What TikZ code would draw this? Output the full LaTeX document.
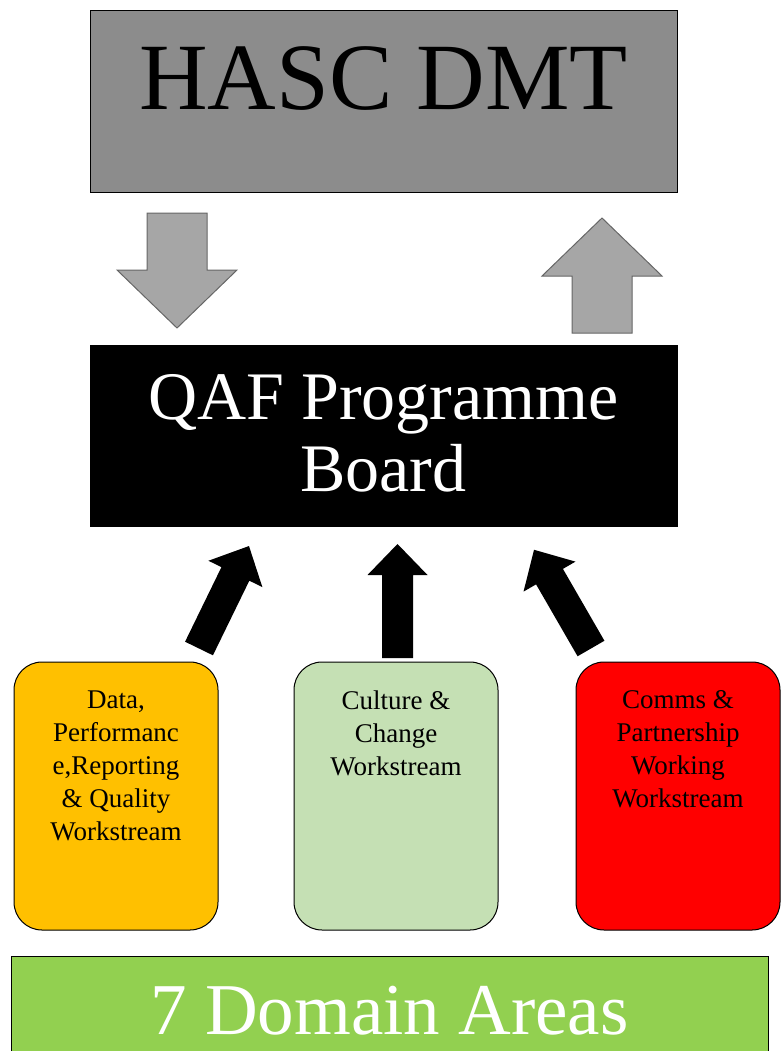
\documentclass[tikz,border=0pt]{standalone}
\usepackage{fontspec}
\setmainfont{Liberation Serif}
\usetikzlibrary{positioning}

\definecolor{dmtgray}{HTML}{8C8C8C}
\definecolor{arrowgray}{HTML}{A6A6A6}
\definecolor{dataorange}{HTML}{FFC000}
\definecolor{culturegreen}{HTML}{C5E0B4}
\definecolor{commsred}{HTML}{FF0000}
\definecolor{domaingreen}{HTML}{92D050}

\tikzset{
    board/.style={draw, line width=1pt, minimum width=587pt, minimum height=181pt, inner sep=0pt},
    stream/.style={draw, line width=1pt, rounded corners=28pt, minimum width=204pt, minimum height=268pt, inner sep=0pt},
    streamtext/.style={align=center, inner sep=0pt, font=\fontsize{27}{33}\selectfont},
    grayarrow/.pic={
        \draw[fill=arrowgray, draw=black!60, line width=1pt]
            (-30,0) -- (-30,-57) -- (-60,-57) -- (0,-115) -- (60,-57) -- (30,-57) -- (30,0) -- cycle;
    },
    blackarrow/.pic={
        \fill (-15.5,0) -- (-15.5,-83) -- (-30,-83) -- (0,-114) -- (30,-83) -- (15.5,-83) -- (15.5,0) -- cycle;
    }
}

\begin{document}
\begin{tikzpicture}[x=1pt, y=-1pt]
    \useasboundingbox (0,0) rectangle (782,1051);

    % Top boxes
    \node[board, fill=dmtgray] (dmt) at (383.5,101.5) {};
    \node[anchor=base, inner sep=0pt, font=\fontsize{95}{95}\selectfont] (dmttext) at (383.5,110) {HASC DMT};
    \node[board, fill=black, draw=black] (qaf) at (383.5,435.5) {};
    \node[align=center, text=white, inner sep=0pt, font=\fontsize{68}{72}\selectfont] (qaftext) at ([yshift=2pt]qaf.center) {QAF Programme\\Board};

    % Arrows between DMT and board
    \pic[rotate=180] at (177,213) {grayarrow};
    \pic at (602,333) {grayarrow};

    % Workstreams
    \node[stream, fill=dataorange] (data) at (116,796) {};
    \node[stream, fill=culturegreen] (culture) at (396,796) {};
    \node[stream, fill=commsred] (comms) at (678,796) {};
    \node[streamtext, anchor=north, below=29pt of data.north] (datatext)
        {Data,\\Performanc\\e,Reporting\\\& Quality\\Workstream};
    \node[streamtext, anchor=north, below=29pt of culture.north] (culturetext)
        {Culture \&\\Change\\Workstream};
    \node[streamtext, anchor=north, below=29pt of comms.north] (commstext)
        {Comms \&\\Partnership\\Working\\Workstream};

    % Arrows up to the board
    \foreach \x/\y/\a in {199/648.5/-26, 397.5/658/0, 591/648.5/30}{
        \pic[rotate=\a] at (\x,\y) {blackarrow};
    }

    % Bottom box
    \node[draw, line width=1pt, fill=domaingreen, minimum width=757pt, minimum height=110pt, inner sep=0pt] (domains) at (389.5,1011) {};
    \node[anchor=base, text=white, inner sep=0pt, font=\fontsize{73}{73}\selectfont] (domainstext) at (389.5,1034) {7 Domain Areas};
\end{tikzpicture}
\end{document}
